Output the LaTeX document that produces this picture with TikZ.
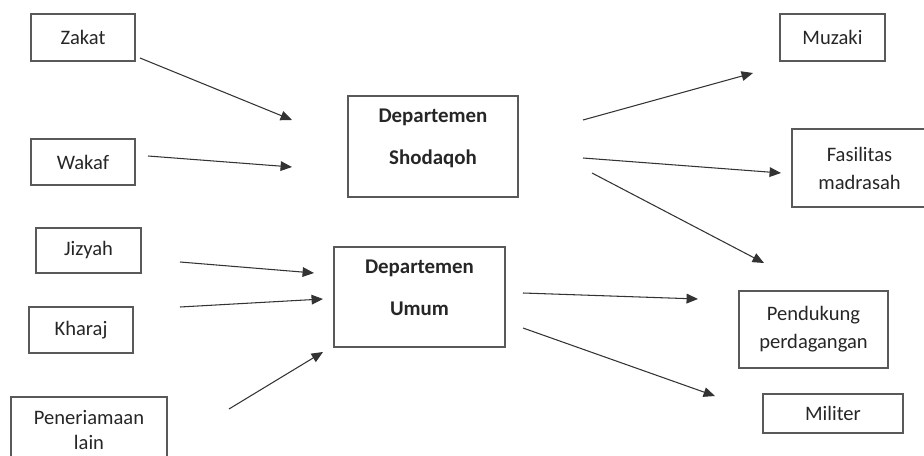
\documentclass[tikz,border=0pt]{standalone}
\usepackage{fontspec}
\setmainfont{Carlito}
\usetikzlibrary{arrows.meta,positioning}
\tikzset{
    >={Triangle[length=6.5pt,width=5.5pt]},
    srcbox/.style={
        rectangle,
        draw=black!65, thick,
        text=black!85,
        align=center,
        font=\fontsize{11.7}{16}\selectfont
    },
    deptbox/.style={
        rectangle,
        draw=black!65, thick,
        minimum width=#1
    },
    depttext/.style={
        align=center,
        text=black!85,
        font=\fontsize{11.9}{23.8}\selectfont\bfseries
    },
    flow/.style={draw=black!80, semithick, ->}
}
\begin{document}
\begin{tikzpicture}[x=0.02cm, y=-0.02cm]
    \clip (0,0) rectangle (924,456);

    % sumber pemasukan
    \node[srcbox, minimum width=2.08cm, minimum height=0.94cm] (zakat) at (83,37.5) {Zakat};
    \node[srcbox, minimum width=2.08cm, minimum height=0.92cm] (wakaf) at (83,162) {Wakaf};
    \node[srcbox, minimum width=2.1cm, minimum height=0.9cm] (jizyah) at (88.5,250.5) {Jizyah};
    \node[srcbox, minimum width=2.08cm, minimum height=0.92cm] (kharaj) at (81,330) {Kharaj};
    \node[srcbox, minimum width=3.12cm, minimum height=1.32cm,
          font=\fontsize{11.7}{14.7}\selectfont] (lain) at (89,430) {Peneriamaan\\lain};

    % departemen
    \node[deptbox=3.4cm, minimum height=2.02cm] (shod) at (433,146.5) {};
    \node[depttext] (shodtxt) at ([yshift=0.17cm]shod.center) {Departemen\\Shodaqoh};
    \node[deptbox=3.42cm, minimum height=2cm] (umum) at (419.5,297) {};
    \node[depttext] (umumtxt) at ([yshift=0.18cm]umum.center) {Departemen\\Umum};

    % penyaluran
    \node[srcbox, minimum width=2.1cm, minimum height=0.94cm] (muzaki) at (832.5,37.5) {Muzaki};
    \node[srcbox, minimum width=2.7cm, minimum height=1.56cm] (fasil) at (859.5,168) {Fasilitas\\madrasah};
    \node[srcbox, minimum width=2.98cm, minimum height=1.54cm] (penduk) at (813.5,329.5) {Pendukung\\perdagangan};
    \node[srcbox, minimum width=2.8cm, minimum height=0.78cm] (milit) at (833,413.5) {Militer};

    % ujung panah yang lepas
    \coordinate (zakat-out) at (140,58);   \coordinate (shod-in1) at (292,120);
    \coordinate (wakaf-out) at (148,156);  \coordinate (shod-in2) at (292,167);
    \coordinate (jizyah-out) at (180,262); \coordinate (umum-in1) at (314,273);
    \coordinate (kharaj-out) at (180,307); \coordinate (umum-in2) at (323,299);
    \coordinate (lain-out) at (229,409);   \coordinate (umum-in3) at (323,352);
    \coordinate (shod-out1) at (583,120);  \coordinate (muzaki-in) at (753,73);
    \coordinate (shod-out2) at (583,158);  \coordinate (fasil-in) at (781,173);
    \coordinate (shod-out3) at (592,173);  \coordinate (penduk-in1) at (764,263);
    \coordinate (umum-out1) at (523,293);  \coordinate (penduk-in2) at (698,299);
    \coordinate (umum-out2) at (523,328);  \coordinate (milit-in) at (715,396);

    \draw[flow] (zakat-out) -- (shod-in1);
    \draw[flow] (wakaf-out) -- (shod-in2);
    \draw[flow] (jizyah-out) -- (umum-in1);
    \draw[flow] (kharaj-out) -- (umum-in2);
    \draw[flow] (lain-out) -- (umum-in3);
    \draw[flow] (shod-out1) -- (muzaki-in);
    \draw[flow] (shod-out2) -- (fasil-in);
    \draw[flow] (shod-out3) -- (penduk-in1);
    \draw[flow] (umum-out1) -- (penduk-in2);
    \draw[flow] (umum-out2) -- (milit-in);
\end{tikzpicture}
\end{document}
